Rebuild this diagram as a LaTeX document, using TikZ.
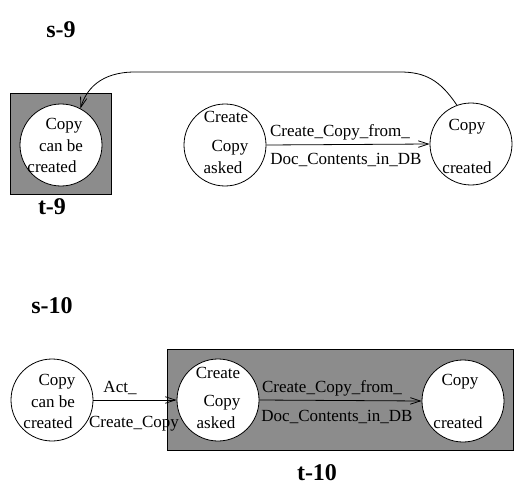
\documentclass[tikz,border=0pt]{standalone}
\usepackage{fontspec}
\setmainfont{Liberation Serif}
\usetikzlibrary{arrows.meta}
\definecolor{boxgray}{RGB}{140,140,140}
\begin{document}
\begin{tikzpicture}[x=1pt,y=-1pt,
  state/.style={circle,draw,line width=0.8pt,fill=white,minimum size=82pt,inner sep=0pt},
  lbl/.style={font=\fontsize{17}{20}\selectfont,inner sep=0pt},
  ttl/.style={font=\fontsize{24}{28}\selectfont\bfseries,inner sep=0pt},
  graybox/.style={draw,fill=boxgray,line width=0.8pt,inner sep=0pt},
  arr/.style={-{Straight Barb[length=10pt,width=6.5pt]},line width=0.8pt}]
\useasboundingbox (0,0) rectangle (517,495);
% ---------- s-9 ----------
\node[ttl] (s9) at (61,30) {s-9};
\node[graybox,minimum width=101pt,minimum height=101pt] (t9box) at (60.5,143.5) {};
\node[ttl] (t9) at (52,207) {t-9};
\node[state] (a1) at (61,145) {};
\node[state] (a2) at (225,145) {};
\node[state] (a3) at (471,144) {};
\node[lbl] (a1l1) at (64,126) {Copy};
\node[lbl] (a1l2) at (61,146) {can be};
\node[lbl] (a1l3) at (52,167) {created};
\node[lbl] (a2l1) at (226,117) {Create};
\node[lbl] (a2l2) at (230,148) {Copy};
\node[lbl] (a2l3) at (223,168) {asked};
\node[lbl] (a3l1) at (467,127) {Copy};
\node[lbl] (a3l2) at (467,168) {created};
\draw[arr] (a2.east) -- (a3.west);
\node[lbl] (e1a) at (340,132) {Create\_Copy\_from\_};
\node[lbl] (e1b) at (346,160) {Doc\_Contents\_in\_DB};
\coordinate (c1) at (400,72);
\coordinate (c2) at (135,72);
\draw[arr] (a3.110) .. controls (440,80) and (425,72) .. (c1) -- (c2)
  .. controls (100,72) and (86,90) .. (a1.62);
% ---------- s-10 ----------
\node[ttl] (s10) at (52,306) {s-10};
\node[graybox,minimum width=346pt,minimum height=101pt] (t10box) at (340,399.5) {};
\node[ttl] (t10) at (317,473) {t-10};
\node[state] (b1) at (52,400) {};
\node[state] (b2) at (218,400) {};
\node[state] (b3) at (463,401) {};
\node[lbl] (b1l1) at (57,382) {Copy};
\node[lbl] (b1l2) at (53,402) {can be};
\node[lbl] (b1l3) at (48,423) {created};
\node[lbl] (b2l1) at (218,373) {Create};
\node[lbl] (b2l2) at (222,403) {Copy};
\node[lbl] (b2l3) at (216,423) {asked};
\node[lbl] (b3l1) at (460,382) {Copy};
\node[lbl] (b3l2) at (458,423) {created};
\draw[arr] (b1.east) -- (b2.west);
\node[lbl] (e2a) at (120,388) {Act\_};
\node[lbl] (e2b) at (134,424) {Create\_Copy};
\draw[arr] (b2.east) -- (b3.west);
\node[lbl] (e3a) at (332,388) {Create\_Copy\_from\_};
\node[lbl] (e3b) at (337,417) {Doc\_Contents\_in\_DB};
\end{tikzpicture}
\end{document}
